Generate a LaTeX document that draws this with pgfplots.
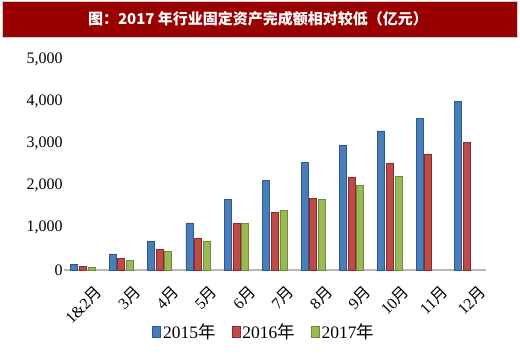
\documentclass[border=0pt]{standalone}
\usepackage{fontspec}
\setmainfont{Liberation Serif}
\newfontfamily\cjk{Noto Sans CJK SC}
\usepackage{pgfplots}
\pgfplotsset{compat=1.18}
\definecolor{banner}{HTML}{990000}
\definecolor{bfill}{HTML}{4A7EBB}
\definecolor{bdraw}{HTML}{2A5990}
\definecolor{rfill}{HTML}{BE4B48}
\definecolor{rdraw}{HTML}{8A2A28}
\definecolor{gfill}{HTML}{98B954}
\definecolor{gdraw}{HTML}{6F8A3A}
\begin{document}
\begin{tikzpicture}[x=1pt,y=1pt]
\useasboundingbox (0,0) rectangle (520,357);
\fill[white] (0,0) rectangle (520,357);
\draw[gray!40] (2.5,319.5) rectangle (517.5,355.5);
\fill[banner] (3,320) rectangle (517,355);
\node[text=white,font={\fontsize{15}{18}\cjk\bfseries}] at (258,338) {图：2017 年行业固定资产完成额相对较低（亿元）};
\begin{axis}[
  at={(83pt,87pt)}, anchor=origin,
  scale only axis, width=422pt, height=211pt,
  ybar=1.6pt, bar width=7pt,
  xmin=-0.5, xmax=10.5, ymin=0, ymax=5000,
  xtick={0,...,10},
  xticklabels={1\&2{\cjk 月},3{\cjk 月},4{\cjk 月},5{\cjk 月},6{\cjk 月},7{\cjk 月},8{\cjk 月},9{\cjk 月},10{\cjk 月},11{\cjk 月},12{\cjk 月}},
  ytick={0,1000,2000,3000,4000,5000},
  scaled y ticks=false,
  /pgf/number format/assume math mode=true,
  /pgf/number format/1000 sep={,},
  axis x line*=bottom, axis y line*=left,
  x axis line style={draw=black!28, line width=1.6pt, -},
  y axis line style={draw=none},
  xtick style={draw=none}, ytick style={draw=none},
  tick label style={font=\fontsize{16}{18}\selectfont},
  yticklabel style={anchor=east, inner sep=0pt, xshift=-1pt},
  xticklabel style={rotate=45, anchor=north east, inner sep=0pt, yshift=-15pt, xshift=1pt},
  legend style={at={(0.475,-0.294)}, anchor=center, draw=none, legend columns=-1,
    font=\fontsize{17.5}{19}\selectfont, /tikz/every even column/.append style={column sep=14pt},
    /tikz/every odd column/.append style={column sep=0pt}},
  legend image code/.code={\draw[#1, line width=0.8pt] (0pt,-5.5pt) rectangle (8pt,5.5pt);},
]
\addplot[fill=bfill, draw=bdraw, line width=0.8pt] coordinates {(0,125) (1,380) (2,680) (3,1114) (4,1666) (5,2116) (6,2543) (7,2962) (8,3294) (9,3595) (10,3988)};
\addplot[fill=rfill, draw=rdraw, line width=0.8pt] coordinates {(0,80) (1,277) (2,481) (3,742) (4,1097) (5,1374) (6,1699) (7,2197) (8,2519) (9,2749) (10,3017)};
\addplot[fill=gfill, draw=gdraw, line width=0.8pt] coordinates {(0,55) (1,237) (2,443) (3,680) (4,1107) (5,1405) (6,1675) (7,2007) (8,2211)};
\legend{2015{\cjk 年},2016{\cjk 年},2017{\cjk 年}}
\end{axis}
\end{tikzpicture}
\end{document}
